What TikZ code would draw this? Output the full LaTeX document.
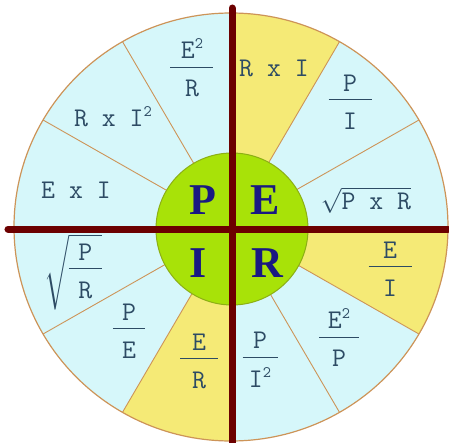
\documentclass[tikz,border=0pt]{standalone}
\usepackage{exscale}
\usepackage{fontspec}
\newfontfamily\peirfont{Liberation Serif}
\definecolor{skyfill}{RGB}{214,247,250}
\definecolor{sunfill}{RGB}{245,234,118}
\definecolor{limefill}{RGB}{168,226,8}
\definecolor{limeline}{RGB}{140,175,20}
\definecolor{rimline}{RGB}{205,148,88}
\definecolor{crossred}{RGB}{108,0,0}
\definecolor{lbltxt}{RGB}{45,75,100}
\definecolor{peirblue}{RGB}{25,25,130}
\newcommand{\frc}[3][40pt]{\begin{tabular}{@{}c@{}}#2\\[-18pt]\rule{#1}{1.1pt}\\[2pt]#3\end{tabular}}
\newcommand{\sq}{\raisebox{10pt}{\fontsize{16}{16}\selectfont 2}}

\begin{document}
\begin{tikzpicture}[x=1pt,y=1pt,
  lbl/.style={text=lbltxt,inner sep=0pt,font=\ttfamily\fontsize{27}{27}\selectfont},
  peir/.style={text=peirblue,inner sep=0pt,font=\peirfont\bfseries\fontsize{44}{44}\selectfont},
  divider/.style={rimline,line width=0.9pt},
  bar/.style={crossred,line width=7pt}]
  \useasboundingbox (-231,-215) rectangle (218,227);
  % wheel
  \fill[skyfill] (0,0) ellipse[x radius=217,y radius=214];
  \fill[sunfill] (0,0)--(60:217 and 214) arc[start angle=60,end angle=90,x radius=217,y radius=214]--cycle;
  \fill[sunfill] (0,0)--(-30:217 and 214) arc[start angle=-30,end angle=0,x radius=217,y radius=214]--cycle;
  \fill[sunfill] (0,0)--(240:217 and 214) arc[start angle=240,end angle=270,x radius=217,y radius=214]--cycle;
  \draw[divider] (0,0)--(30:217 and 214) (0,0)--(60:217 and 214) (0,0)--(120:217 and 214) (0,0)--(150:217 and 214)
    (0,0)--(210:217 and 214) (0,0)--(240:217 and 214) (0,0)--(300:217 and 214) (0,0)--(330:217 and 214);
  \draw[rimline,line width=1.2pt] (0,0) ellipse[x radius=217,y radius=214];
  % hub
  \filldraw[fill=limefill,draw=limeline,line width=1pt] (1,-2) circle (76);
  % cross
  \draw[bar,line cap=round] (1,219)--(1,-216);
  \draw[bar,line cap=round] (-223,-2)--(217,-2);
  % hub letters
  \node[peir] (p) at (-28,27) {P};
  \node[peir] (e) at (34,27) {E};
  \node[peir] (i) at (-33,-36) {I};
  \node[peir] (r) at (36,-36) {R};
  % power
  \node[lbl] (pw1) at (-39,155) {\frc[43pt]{E\sq}{R}};
  \node[lbl] (pw2) at (-118,110) {R x I\sq};
  \node[lbl] (pw3) at (-155,37) {E x I};
  % voltage
  \node[lbl] (vt1) at (43,159) {R x I};
  \node[lbl] (vt2) at (119,122) {\frc[43pt]{P}{I}};
  \node[lbl] (vt3) at (135,27) {$\sqrt{\hbox{P x R}}$};
  % resistance
  \node[lbl] (rs1) at (159,-45) {\frc[43pt]{E}{I}};
  \node[lbl] (rs2) at (108,-115) {\frc[40pt]{E\sq}{P}};
  \node[lbl] (rs3) at (29,-136) {\frc[35pt]{P}{I\sq}};
  % current
  \node[lbl] (cr1) at (-32,-137) {\frc[38pt]{E}{R}};
  \node[lbl] (cr2) at (-102,-107) {\frc[32pt]{P}{E}};
  \node[lbl] (cr3) at (-158,-45) {$\sqrt{\hbox{\frc[33pt]{P}{R}}}$};
\end{tikzpicture}
\end{document}
